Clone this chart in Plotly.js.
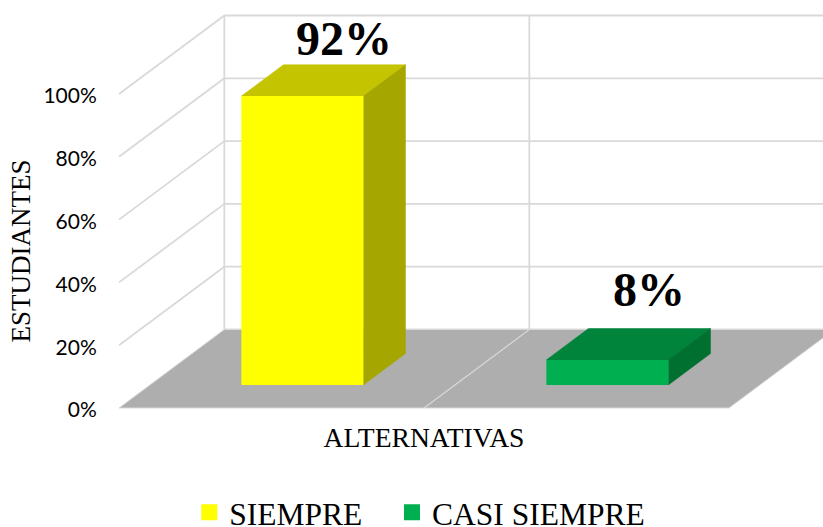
<!DOCTYPE html>
<html>
<head>
<meta charset="utf-8">
<script src="https://cdn.plot.ly/plotly-3.0.1.min.js"></script>
<style>html,body{margin:0;padding:0;background:#fff;overflow:hidden}#c{width:823px;height:527px}</style>
</head>
<body>
<div id="c"></div>
<script>
const categories = ['SIEMPRE', 'CASI SIEMPRE'];
const values = [92, 8];
const labels = ['92%', '8%'];
const yTicks = [0, 20, 40, 60, 80, 100];
const yTickLabels = ['0%', '20%', '40%', '60%', '80%', '100%'];
const frontColors = ['#FFFF00', '#00B050'];
const topColors = ['#C4C400', '#00843C'];
const sideColors = ['#A6A600', '#007030'];

// oblique projection of the 3-D box, in axis units
const depthX = 0.3453, depthY = 25, barW = 0.4;
const f0 = 0.293, f1 = 0.693;
const labelLift = [8.2, 12.5];
const serif = '"Liberation Serif", "Times New Roman", serif';

const L = 118.5, R = 729.5, T = 93.5, B = 408;
const px = x => x / 2, py = y => y / 100; // axis value -> paper fraction

const poly = (pts) => 'M' + pts.map(p => px(p[0]) + ',' + py(p[1])).join('L') + 'Z';
const pline = (a, b, w, color) => ({
  type: 'line', xref: 'paper', yref: 'paper', layer: 'below',
  x0: px(a[0]), y0: py(a[1]), x1: px(b[0]), y1: py(b[1]),
  line: {color: color || '#D9D9D9', width: w}
});
const face = (pts, color) => ({
  type: 'path', xref: 'paper', yref: 'paper', layer: 'below',
  path: poly(pts), fillcolor: color, line: {color: color, width: 0.5}
});

const shapes = [];
// walls
yTicks.forEach(v => {
  if (v > 0) shapes.push(pline([0, v], [depthX, v + depthY], 1.8));
  shapes.push(pline([depthX, v + depthY], [3, v + depthY], 1.8));
});
[0, 1, 2].forEach(c => shapes.push(pline([c + depthX, depthY], [c + depthX, 100 + depthY], 1.8)));
// floor
shapes.push({
  type: 'path', xref: 'paper', yref: 'paper', layer: 'below',
  path: poly([[0, 0], [2, 0], [2 + depthX, depthY], [depthX, depthY]]),
  fillcolor: '#AEAEAE', line: {color: '#D9D9D9', width: 1}
});
shapes.push(pline([1, 0], [1 + depthX, depthY], 1.2));

// top and side faces of each bar
values.forEach((v, i) => {
  const x0 = i + 0.5 + depthX * f0 - barW / 2, x1 = x0 + barW;
  const b = depthY * f0, t = b + v;
  const ox = depthX * (f1 - f0), oy = depthY * (f1 - f0);
  shapes.push(face([[x0, t], [x1, t], [x1 + ox, t + oy], [x0 + ox, t + oy]], topColors[i]));
  shapes.push(face([[x1, b], [x1 + ox, b + oy], [x1 + ox, t + oy], [x1, t]], sideColors[i]));
});

const traces = [{
  type: 'bar', x: categories.map((c, i) => i + 0.5 + depthX * f0),
  y: values, base: values.map(() => depthY * f0), width: barW,
  marker: {color: frontColors, line: {width: 0}}, showlegend: false, hoverinfo: 'skip', cliponaxis: false
}];
categories.forEach((c, i) => traces.push({
  type: 'scatter', mode: 'markers', name: c, x: [null], y: [null],
  legend: i === 0 ? 'legend' : 'legend2',
  marker: {symbol: 'square', size: 16, color: frontColors[i]}, hoverinfo: 'skip'
}));

const annotations = values.map((v, i) => ({
  xref: 'paper', yref: 'paper', x: px(i + 0.5 + depthX * f1), y: py(v + depthY * f1 + labelLift[i]),
  text: '<b>' + labels[i] + '</b>', showarrow: false, xanchor: 'center', yanchor: 'middle',
  font: {family: serif, size: 48, color: '#000'}
}));

const legendBase = {
  orientation: 'h', xref: 'container', yref: 'container', xanchor: 'left', y: 0.079, yanchor: 'top',
  font: {family: serif, size: 31.5, color: '#000'}, bgcolor: 'rgba(0,0,0,0)'
};

Plotly.newPlot('c', traces, {
  width: 823, height: 527, autosize: false,
  paper_bgcolor: '#fff', plot_bgcolor: 'rgba(0,0,0,0)',
  margin: {l: L, r: 823 - R, t: T, b: 527 - B, pad: 0},
  barmode: 'overlay', shapes, annotations, hovermode: false,
  xaxis: {
    range: [0, 2], showgrid: false, zeroline: false, showline: false, showticklabels: false, ticks: '',
    title: {text: 'ALTERNATIVAS', font: {family: serif, size: 27.6, color: '#000'}, standoff: 19}
  },
  yaxis: {
    range: [0, 100], tickvals: yTicks, ticktext: yTickLabels, showgrid: false, zeroline: false, showline: false,
    ticks: 'outside', ticklen: 17, tickcolor: 'rgba(0,0,0,0)', ticklabelshift: 2,
    tickfont: {family: 'Lato, sans-serif', size: 21, color: '#000'},
    title: {text: 'ESTUDIANTES', font: {family: serif, size: 27, color: '#000'}, standoff: 4}
  },
  legend: Object.assign({}, legendBase, {x: 0.23}),
  legend2: Object.assign({}, legendBase, {x: 0.4763}),
  showlegend: true
}, {displayModeBar: false, staticPlot: true});
</script>
</body>
</html>
